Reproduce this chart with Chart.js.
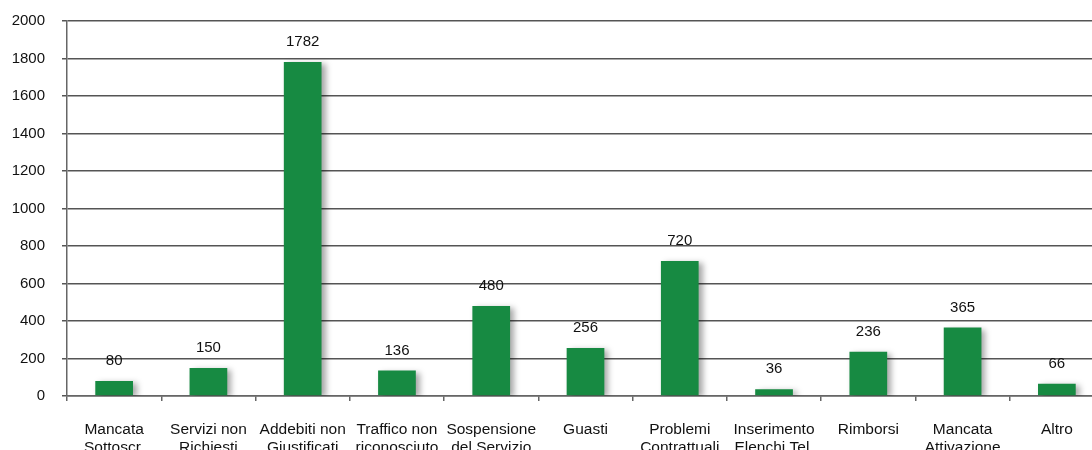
<!DOCTYPE html>
<html>
<head>
<meta charset="utf-8">
<script src="https://cdn.jsdelivr.net/npm/chart.js@4/dist/chart.umd.min.js"></script>
<style>
  html, body { margin: 0; padding: 0; background: #fff; overflow: hidden; }
  #wrap { width: 1092px; height: 450px; overflow: hidden; position: relative; }
  canvas { position: absolute; left: 0; top: -5px; }
</style>
</head>
<body>
<div id="wrap">
  <canvas id="myChart" width="1104" height="475"></canvas>
</div>
<script>
// categorie (due righe per etichetta)
const categories = [
  ['Mancata', 'Sottoscr.'],
  ['Servizi non', 'Richiesti'],
  ['Addebiti non', 'Giustificati'],
  ['Traffico non', 'riconosciuto'],
  ['Sospensione', 'del Servizio'],
  ['Guasti'],
  ['Problemi', 'Contrattuali'],
  ['Inserimento', 'Elenchi Tel.'],
  ['Rimborsi'],
  ['Mancata', 'Attivazione'],
  ['Altro']
];
const values = [80, 150, 1782, 136, 480, 256, 720, 36, 236, 365, 66];
const yTicks = [0, 200, 400, 600, 800, 1000, 1200, 1400, 1600, 1800, 2000];

const FONT = 'Liberation Sans, Arial, Helvetica, sans-serif';

// ombra delle barre
const shadowPlugin = {
  id: 'barShadow',
  beforeDatasetsDraw(chart) {
    const c = chart.ctx;
    c.save();
    c.shadowColor = 'rgba(0,0,0,0.35)';
    c.shadowOffsetX = 4;
    c.shadowOffsetY = 2;
    c.shadowBlur = 6;
  },
  afterDatasetsDraw(chart) {
    chart.ctx.restore();
  }
};

// valori sopra le barre
const valueLabels = {
  id: 'valueLabels',
  afterDraw(chart) {
    const c = chart.ctx;
    const meta = chart.getDatasetMeta(0);
    c.save();
    c.font = '15px ' + FONT;
    c.fillStyle = '#111';
    c.textAlign = 'center';
    c.textBaseline = 'middle';
    meta.data.forEach((bar, i) => {
      c.fillText(String(values[i]), bar.x, bar.y - 20);
    });
    c.restore();
  }
};

const ctx = document.getElementById('myChart').getContext('2d');
new Chart(ctx, {
  type: 'bar',
  data: {
    labels: categories,
    datasets: [{
      data: values,
      backgroundColor: '#178a42',
      borderWidth: 0,
      barPercentage: 0.4,
      categoryPercentage: 1.0
    }]
  },
  options: {
    responsive: false,
    animation: false,
    layout: { padding: { top: 11, right: 0, left: 0, bottom: 0 } },
    plugins: {
      legend: { display: false },
      tooltip: { enabled: false }
    },
    scales: {
      x: {
        afterFit(scale) { scale.height = 74; },
        grid: {
          drawOnChartArea: false,
          drawTicks: true,
          tickLength: 5,
          color: '#666',
          lineWidth: 1.5
        },
        border: { color: '#666', width: 1.5 },
        ticks: {
          padding: 19,
          color: '#111',
          maxRotation: 0,
          autoSkip: false,
          font: { family: FONT, size: 15.5, lineHeight: 1.2 }
        }
      },
      y: {
        min: 0,
        max: 2000,
        afterFit(scale) { scale.width = 67; },
        afterBuildTicks(scale) { scale.ticks = yTicks.map(v => ({ value: v })); },
        grid: {
          color: '#555',
          lineWidth: 1.5,
          tickLength: 5,
          drawTicks: true
        },
        border: { color: '#666', width: 1.5 },
        ticks: {
          padding: 17,
          color: '#111',
          callback: v => String(v),
          font: { family: FONT, size: 15 }
        }
      }
    }
  },
  plugins: [shadowPlugin, valueLabels]
});
</script>
</body>
</html>
